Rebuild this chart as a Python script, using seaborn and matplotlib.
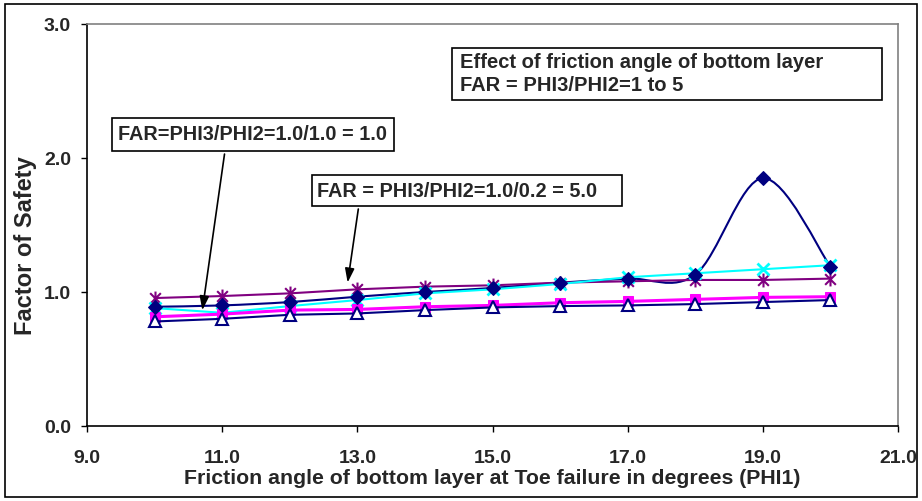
import numpy as np
import pandas as pd
import matplotlib
matplotlib.use("Agg")
import matplotlib.pyplot as plt
from matplotlib.path import Path
from matplotlib.patches import PathPatch, Rectangle
import seaborn as sns

# ---- data ----
phi1 = [10, 11, 12, 13, 14, 15, 16, 17, 18, 19, 20]
fs_diamond = [0.89, 0.90, 0.925, 0.965, 1.00, 1.03, 1.07, 1.10, 1.13, 1.85, 1.19]
fs_square = [0.815, 0.835, 0.865, 0.87, 0.89, 0.90, 0.92, 0.93, 0.945, 0.96, 0.965]
fs_triangle = [0.78, 0.80, 0.83, 0.84, 0.865, 0.885, 0.895, 0.90, 0.91, 0.925, 0.94]
fs_cross = [0.88, 0.845, 0.895, 0.94, 0.99, 1.02, 1.06, 1.11, 1.14, 1.17, 1.20]
fs_star = [0.955, 0.97, 0.99, 1.02, 1.04, 1.05, 1.07, 1.08, 1.09, 1.09, 1.10]

x_ticks = [9.0, 11.0, 13.0, 15.0, 17.0, 19.0, 21.0]
y_ticks = [0.0, 1.0, 2.0, 3.0]

title_text = "Effect of friction angle of bottom layer\nFAR = PHI3/PHI2=1 to 5"
note1 = "FAR=PHI3/PHI2=1.0/1.0 = 1.0"
note2 = "FAR = PHI3/PHI2=1.0/0.2 = 5.0"

sns.set_theme(style="white")
plt.rcParams['font.family'] = ['Liberation Sans', 'DejaVu Sans']
plt.rcParams['font.weight'] = 'bold'

W, H = 922, 501
fig = plt.figure(figsize=(W / 100, H / 100), dpi=100)


def fx(px):
    return px / W


def fy(py):
    return 1 - py / H


def frect(x0, y0, x1, y1, lw=1.2):
    fig.patches.append(Rectangle((fx(x0), fy(y1)), fx(x1) - fx(x0), fy(y0) - fy(y1),
                                 transform=fig.transFigure, fill=True, facecolor='white',
                                 edgecolor='black', linewidth=lw, zorder=10))


fig.patches.append(Rectangle((0.005, 0.008), 0.99, 0.985, transform=fig.transFigure,
                             fill=False, edgecolor='black', linewidth=1.2))
ax = fig.add_axes([0.0944, 0.1497, 0.8796, 0.8023])

navy = "#000080"
magenta = "#FF00FF"
cyan = "#00FFFF"
purple = "#800080"

# asterisk marker (X plus vertical bar)
star_path = Path([(-1, -1), (1, 1), (-1, 1), (1, -1), (0, -1.3), (0, 1.3)],
                 [Path.MOVETO, Path.LINETO, Path.MOVETO, Path.LINETO, Path.MOVETO, Path.LINETO])

# smoothed curve for the diamond series (Bezier through data points)
pts = np.column_stack([phi1, fs_diamond]).astype(float)
verts = [tuple(pts[0])]
codes = [Path.MOVETO]
n = len(pts)
for i in range(n - 1):
    p_prev = pts[i - 1] if i > 0 else pts[i]
    p0 = pts[i]
    p1 = pts[i + 1]
    p_next = pts[i + 2] if i + 2 < n else pts[i + 1]
    c1 = p0 + (p1 - p_prev) / 6.0
    c2 = p1 - (p_next - p0) / 6.0
    verts += [tuple(c1), tuple(c2), tuple(p1)]
    codes += [Path.CURVE4, Path.CURVE4, Path.CURVE4]
ax.add_patch(PathPatch(Path(verts, codes), fill=False, edgecolor=navy, linewidth=1.5, zorder=2))

sns.lineplot(x=phi1, y=fs_star, ax=ax, color=purple, linewidth=1.5, marker=star_path,
             markersize=10, markeredgewidth=1.5, markeredgecolor=purple, zorder=3)
sns.lineplot(x=phi1, y=fs_cross, ax=ax, color=cyan, linewidth=1.5, marker='x',
             markersize=9, markeredgewidth=2, markeredgecolor=cyan, zorder=3)
sns.lineplot(x=phi1, y=fs_diamond, ax=ax, color=navy, linestyle='none', marker='D',
             markersize=7, markeredgecolor=navy, markerfacecolor=navy, zorder=4)
sns.lineplot(x=phi1, y=fs_square, ax=ax, color=magenta, linewidth=2.2, marker='s',
             markersize=7.5, markeredgecolor=magenta, markerfacecolor=magenta, zorder=3)
sns.lineplot(x=phi1, y=fs_triangle, ax=ax, color=navy, linewidth=1.5, marker='^',
             markersize=9, markeredgewidth=1.5, markeredgecolor=navy, markerfacecolor='white', zorder=5)

ax.set_xlim(9, 21)
ax.set_ylim(0, 3)
ax.set_xticks(x_ticks)
ax.set_yticks(y_ticks)
ax.set_xticklabels([f"{v:.1f}" for v in x_ticks], fontsize=14, fontweight='bold')
ax.set_yticklabels([f"{v:.1f}" for v in y_ticks], fontsize=14, fontweight='bold')
ax.tick_params(axis='x', direction='out', length=4.5, width=1, color='black', bottom=True, pad=13)
ax.tick_params(axis='y', direction='out', length=4.5, width=1, color='black', left=True, pad=7)
ax.set_xlabel("Friction angle of bottom layer at Toe failure in degrees (PHI1)",
              fontsize=15.3, fontweight='bold', labelpad=1)
ax.set_ylabel("Factor of Safety", fontsize=17, fontweight='bold')
ax.yaxis.set_label_coords((37 - 87) / 811.7, (426 - 246) / 402.0)

for side in ['left', 'bottom']:
    ax.spines[side].set_color('black')
    ax.spines[side].set_linewidth(1.2)
for side in ['top', 'right']:
    ax.spines[side].set_color('#808080')
    ax.spines[side].set_linewidth(1.2)

# text boxes
frect(452, 48, 882, 100)
fig.text(fx(460), fy(74), title_text, fontsize=14.5, fontweight='bold',
         ha='left', va='center', linespacing=1.25, zorder=11)
frect(112, 118, 394, 151)
fig.text(fx(118), fy(135), note1, fontsize=14.3, fontweight='bold',
         ha='left', va='center', zorder=11)
frect(312, 175, 622, 206)
fig.text(fx(317), fy(191), note2, fontsize=14.3, fontweight='bold',
         ha='left', va='center', zorder=11)

ax.annotate("", xy=(10.70, 0.843), xytext=(11.04, 2.05),
            arrowprops=dict(arrowstyle='-|>,head_length=0.6,head_width=0.2', color='black',
                            lw=1.2, mutation_scale=14), zorder=6)
ax.annotate("", xy=(12.85, 1.05), xytext=(13.02, 1.64),
            arrowprops=dict(arrowstyle='-|>,head_length=0.6,head_width=0.2', color='black',
                            lw=1.2, mutation_scale=14), zorder=6)

fig.savefig("out.png", dpi=100)
